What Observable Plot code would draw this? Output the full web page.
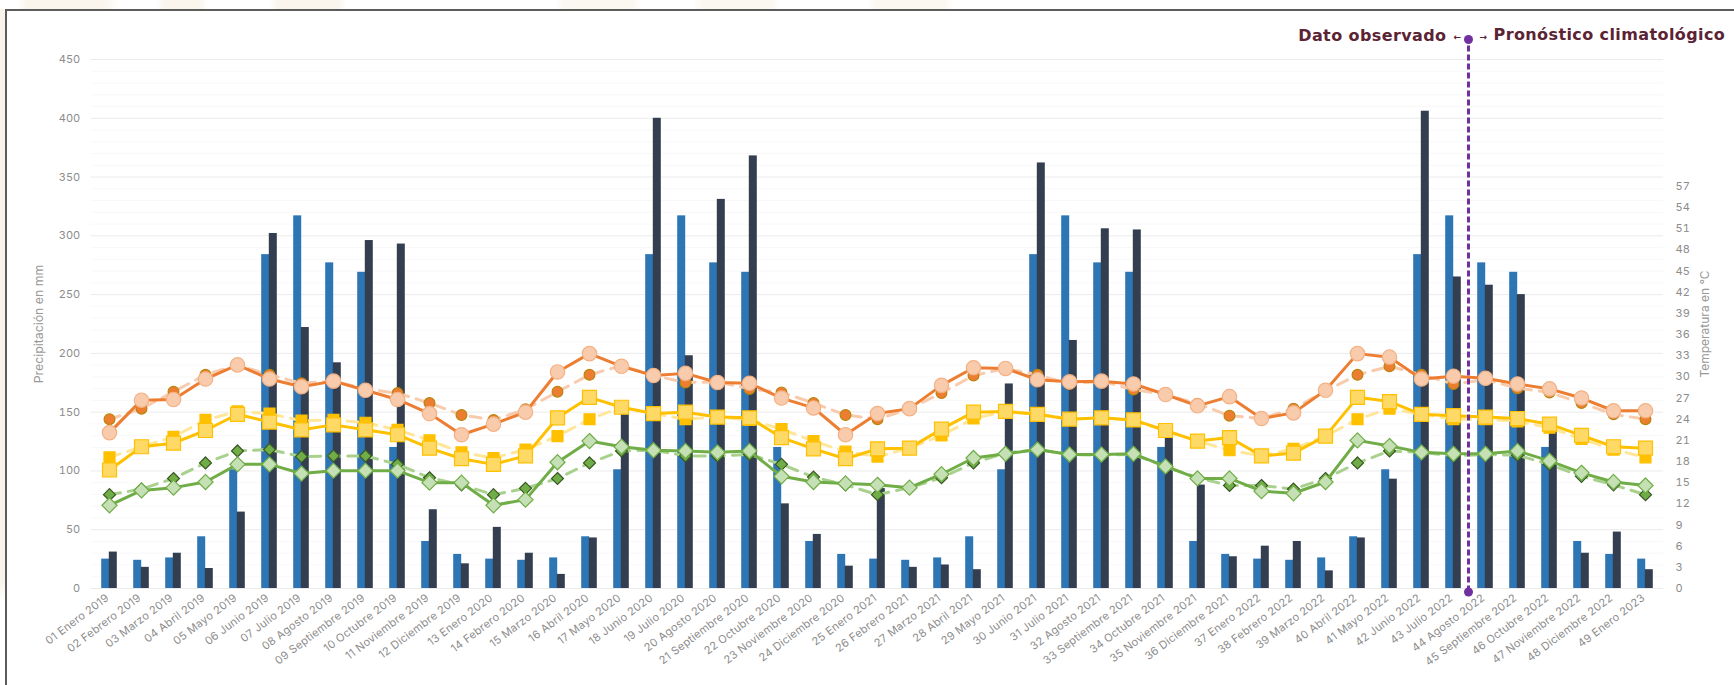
<!DOCTYPE html>
<html><head><meta charset="utf-8">
<script src="https://cdn.jsdelivr.net/npm/d3@7"></script>
<script src="https://cdn.jsdelivr.net/npm/@observablehq/plot@0.6"></script>
<style>
html,body{margin:0;padding:0;background:#fff;width:1734px;height:685px;overflow:hidden}
#frame{position:absolute;left:5px;top:9px;right:0;bottom:0;border-left:2px solid #5c5c5c;border-top:2px solid #5c5c5c;background:#fff}
#strip{position:absolute;left:0;top:0;width:5px;height:100%;background:linear-gradient(#f8f4ec,#f8f4ec 85%,#fff 88%)}
#topstrip{position:absolute;left:0;top:0;width:100%;height:9px;background:linear-gradient(90deg,#fff 1%,#faf6ee 1.5%,#faf6ee 6%,#fff 7%,#fff 9%,#faf6ee 9.5%,#faf6ee 11.5%,#fff 12%,#fff 15.5%,#faf6ee 16%,#faf6ee 19.5%,#fff 20%,#fff 32%,#fbf8f2 32.5%,#fbf8f2 36.5%,#fff 37%,#fff 40%,#fbf8f2 40.5%,#fbf8f2 44.5%,#fff 45%,#fff 50%,#fbf8f2 50.5%,#fbf8f2 54.5%,#fff 55%)}
#chart{position:absolute;left:0;top:0}
g[aria-label="x-axis tick label"] text{letter-spacing:.25px}
g[font-family*="DejaVu"]{letter-spacing:.4px}
</style></head><body>
<div id="strip"></div><div id="topstrip"></div><div id="frame"></div><div id="chart"></div>
<script>
const labels = ["01 Enero 2019","02 Febrero 2019","03 Marzo 2019","04 Abril 2019","05 Mayo 2019","06 Junio 2019","07 Julio 2019","08 Agosto 2019","09 Septiembre 2019","10 Octubre 2019","11 Noviembre 2019","12 Diciembre 2019","13 Enero 2020","14 Febrero 2020","15 Marzo 2020","16 Abril 2020","17 Mayo 2020","18 Junio 2020","19 Julio 2020","20 Agosto 2020","21 Septiembre 2020","22 Octubre 2020","23 Noviembre 2020","24 Diciembre 2020","25 Enero 2021","26 Febrero 2021","27 Marzo 2021","28 Abril 2021","29 Mayo 2021","30 Junio 2021","31 Julio 2021","32 Agosto 2021","33 Septiembre 2021","34 Octubre 2021","35 Noviembre 2021","36 Diciembre 2021","37 Enero 2022","38 Febrero 2022","39 Marzo 2022","40 Abril 2022","41 Mayo 2022","42 Junio 2022","43 Julio 2022","44 Agosto 2022","45 Septiembre 2022","46 Octubre 2022","47 Noviembre 2022","48 Diciembre 2022","49 Enero 2023"];

const precipClim = [25,24,26,44,101,284,317,277,269,120,40,29, 25,24,26,44,101,284,317,277,269,120,40,29, 25,24,26,44,101,284,317,277,269,120,40,29, 25,24,26,44,101,284,317,277,269,120,40,29, 25];
const precipObs = [31,18,30,17,65,302,222,192,296,293,67,21, 52,30,12,43,148,400,198,331,368,72,46,19, 85,18,20,16,174,362,211,306,305,130,88,27, 36,40,15,43,93,406,265,258,250,135,30,48, 16];

const maxClim = [24.0,25.5,27.9,30.3,31.7,30.3,29.1,29.4,28.3,27.7,26.3,24.6, 23.9,25.4,27.9,30.3,31.6,30.2,29.2,29.3,28.3,27.8,26.3,24.6, 24.0,25.5,27.7,30.2,31.2,30.3,29.0,29.4,28.2,27.5,26.2,24.5, 24.1,25.5,28.0,30.3,31.5,30.3,29.0,29.6,28.4,27.8,26.3,24.7, 24.0];
const meanClim = [18.6,20.1,21.5,23.9,25.1,24.8,23.8,23.9,23.5,22.5,21.0,19.3, 18.5,19.7,21.6,24.0,25.7,24.8,24.0,24.3,23.9,22.6,20.9,19.4, 18.7,19.9,21.7,24.1,25.1,24.8,24.0,24.2,23.8,22.4,20.9,19.6, 18.8,19.8,21.6,24.0,25.5,24.7,24.0,24.0,23.7,22.8,21.2,19.7, 18.6];
const minClim = [13.3,14.1,15.6,17.8,19.5,19.7,18.7,18.8,18.8,17.6,15.7,14.7, 13.3,14.2,15.6,17.8,19.5,19.6,18.8,18.8,19.0,17.6,15.8,14.7, 13.3,14.3,15.7,17.8,19.2,19.7,19.0,18.9,19.0,17.3,15.7,14.6, 14.6,14.1,15.6,17.8,19.5,19.3,18.8,19.0,18.9,17.6,15.9,14.7, 13.3];

const maxObs = [22.1,26.7,26.8,29.7,31.7,29.7,28.6,29.4,28.1,26.8,24.8,21.8, 23.3,25.0,30.7,33.3,31.5,30.2,30.5,29.2,29.1,27.0,25.6,21.8, 24.8,25.5,28.8,31.3,31.2,29.6,29.3,29.4,29.0,27.5,25.9,27.2, 24.1,24.9,28.1,33.3,32.8,29.7,30.1,29.8,29.0,28.3,27.0,25.2, 25.2];
const meanObs = [16.8,20.1,20.6,22.4,24.7,23.6,22.5,23.2,22.5,21.8,19.9,18.4, 17.6,18.8,24.2,27.1,25.7,24.8,25.0,24.3,24.2,21.4,19.8,18.4, 19.8,19.9,22.6,25.0,25.1,24.7,24.0,24.2,23.9,22.4,20.9,21.4, 18.8,19.2,21.6,27.1,26.5,24.7,24.5,24.3,24.1,23.3,21.7,20.1, 19.9];
const minObs = [11.8,13.9,14.3,15.1,17.6,17.6,16.3,16.7,16.7,16.7,15.0,15.0, 11.8,12.6,17.9,20.9,20.1,19.6,19.5,19.3,19.5,15.9,15.1,14.9, 14.7,14.3,16.2,18.5,19.1,19.7,19.0,19.0,19.1,17.3,15.6,15.6, 13.8,13.5,15.1,21.0,20.2,19.3,19.1,19.1,19.5,18.1,16.4,15.1, 14.6];

const precipTicks = [0,50,100,150,200,250,300,350,400,450];
const minorTicks = [10,20,30,40,60,70,80,90,110,120,130,140,160,170,180,190,210,220,230,240,260,270,280,290,310,320,330,340,360,370,380,390,410,420,430,440];
const tempTicks = [0,3,6,9,12,15,18,21,24,27,30,33,36,39,42,45,48,51,54,57];
const mmPerDegree = 6;

const barW = 7.6;
const T = a => labels.map((c,i)=>({c, v:a[i]*mmPerDegree}));
const P = a => labels.map((c,i)=>({c, v:a[i]}));

const dashLine = (a,color) => Plot.line(T(a),{x:"c",y:"v",stroke:color,strokeWidth:3,strokeDasharray:"11 8"});
const solidLine = (a,color) => Plot.line(T(a),{x:"c",y:"v",stroke:color,strokeWidth:3});
const dots = (a,symbol,r,fill,stroke) => Plot.dot(T(a),{x:"c",y:"v",symbol,r,fill,stroke,strokeWidth:1.2});
const boldFont = "'DejaVu Sans', sans-serif";

const plot = Plot.plot({
  width:1734, height:685,
  marginLeft:90.7, marginRight:71, marginTop:59, marginBottom:97,
  style:{background:"transparent",fontFamily:"Inter, sans-serif"},
  x:{type:"band",domain:labels,paddingInner:0.763,paddingOuter:0.3815,label:null},
  y:{domain:[0,450],label:null},
  marks:[
    Plot.ruleY(minorTicks,{stroke:"#f8f8f8",strokeWidth:1}),
    Plot.ruleY(precipTicks,{stroke:"#ebebeb",strokeWidth:1}),
    Plot.barY(P(precipClim),{x:"c",y:"v",fill:"#2e75b6",dx:-barW/2}),
    Plot.barY(P(precipObs),{x:"c",y:"v",fill:"#333f50",dx:barW/2}),
    dashLine(maxClim,"#f8cbad"),
    dashLine(meanClim,"#ffe699"),
    dashLine(minClim,"#a9d18e"),
    dots(maxClim,"circle",5.4,"#ed7d31","#b8860b"),
    dots(meanClim,"square",6.2,"#ffc000","#ffc000"),
    dots(minClim,"diamond2",5.4,"#70ad47","#385723"),
    solidLine(maxObs,"#ed7d31"),
    solidLine(meanObs,"#ffc000"),
    solidLine(minObs,"#70ad47"),
    dots(maxObs,"circle",7.2,"#f8cbad","#f4b183"),
    dots(meanObs,"square",7.9,"#ffd966","#ffc000"),
    dots(minObs,"diamond2",6.8,"#c5e0b4","#70ad47"),
    Plot.ruleX([labels[43]],{y1:[-3],y2:[467],dx:-17,stroke:"#7030a0",strokeWidth:3,strokeDasharray:"6 3"}),
    Plot.dot([{c:labels[43],v:467},{c:labels[43],v:-3}],{x:"c",y:"v",dx:-17,r:4.5,fill:"#7030a0"}),
    Plot.text(["Dato observado"],{x:()=>labels[43],y:()=>470,dx:-39,textAnchor:"end",fontSize:16,fontWeight:700,fill:"#5b2333",fontFamily:boldFont}),
    Plot.text(["←"],{x:()=>labels[43],y:()=>469,dx:-28,textAnchor:"middle",fontSize:9,fontWeight:700,fill:"#5b2333",fontFamily:boldFont}),
    Plot.text(["→"],{x:()=>labels[43],y:()=>469,dx:-2,textAnchor:"middle",fontSize:9,fontWeight:700,fill:"#5b2333",fontFamily:boldFont}),
    Plot.text(["Pronóstico climatológico"],{x:()=>labels[43],y:()=>471,dx:8,textAnchor:"start",fontSize:16,fontWeight:700,fill:"#5b2333",fontFamily:boldFont}),
    Plot.axisY(precipTicks,{anchor:"left",tickSize:0,tickPadding:11,fontSize:11,color:"#8c8c8c",label:null}),
    Plot.axisY(tempTicks.map(t=>t*mmPerDegree),{anchor:"right",tickSize:0,tickPadding:12,fontSize:11,color:"#8c8c8c",label:null,tickFormat:v=>v/mmPerDegree}),
    Plot.axisX(labels,{anchor:"bottom",tickSize:0,tickPadding:8,tickRotate:-37,fontSize:11,color:"#8c8c8c",label:null,lineWidth:50,dx:-2}),
    Plot.text(["Precipitación en mm"],{frameAnchor:"left",textAnchor:"middle",dx:-52,rotate:-90,fontSize:12.3,fill:"#999"}),
    Plot.text(["Temperatura en °C"],{frameAnchor:"right",textAnchor:"middle",dx:42,rotate:-90,fontSize:12,fill:"#999"})
  ]
});
document.getElementById("chart").appendChild(plot);
</script>
</body></html>
